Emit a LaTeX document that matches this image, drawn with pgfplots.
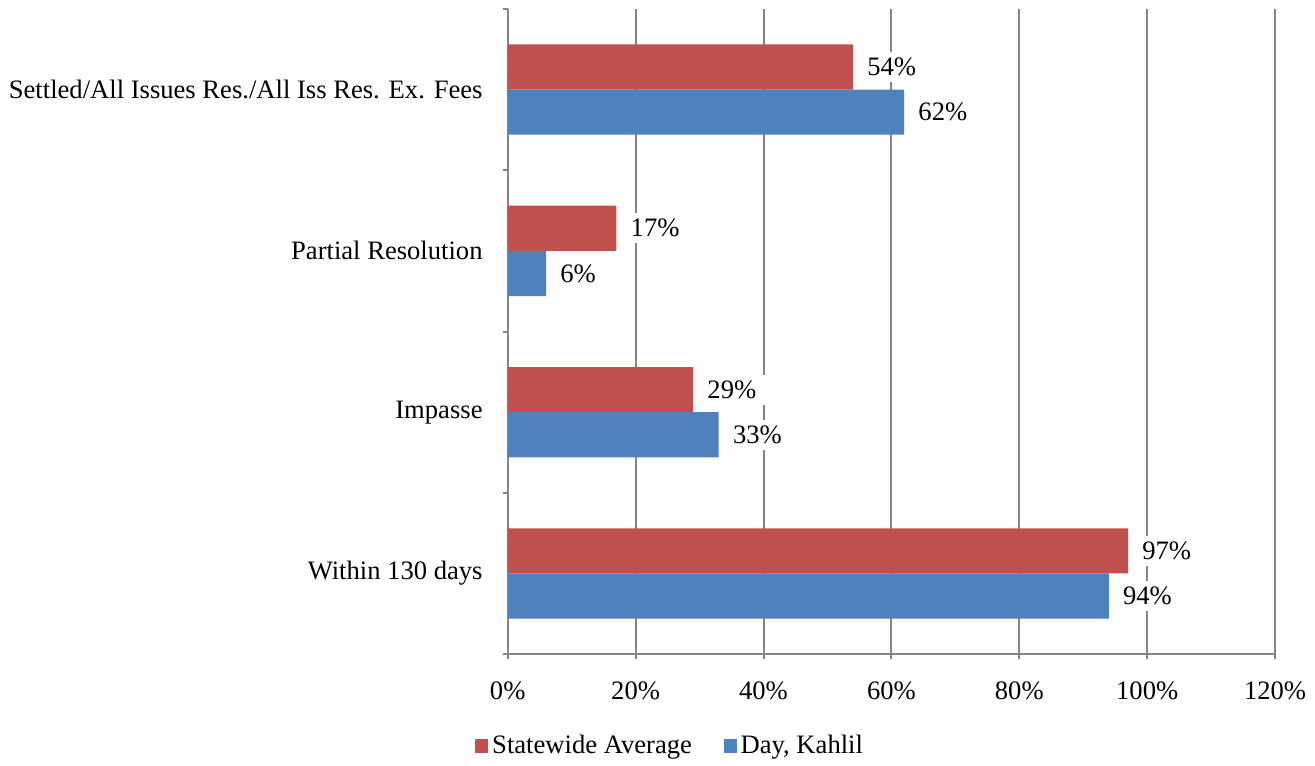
\documentclass[border=0pt]{standalone}
\usepackage{fontspec}
\setmainfont{Liberation Serif}
\usepackage{pgfplots}
\pgfplotsset{compat=1.18}
\definecolor{redS}{HTML}{C0504D}
\definecolor{blueD}{HTML}{4F81BD}
\definecolor{gridg}{HTML}{868686}
\begin{document}
\fontsize{13.4}{16}\selectfont
\begin{tikzpicture}
\begin{axis}[
  scale only axis, width=386.5pt, height=325pt,
  xbar, bar width=0.28,
  xmin=0, xmax=120, ymin=-0.5, ymax=3.5,
  xtick={0,20,...,120},
  xticklabel={\pgfmathprintnumber{\tick}\%},
  /pgf/number format/assume math mode=true,
  ytick={-0.5,0.5,...,3.5}, yticklabels={},
  extra y ticks={0,1,2,3},
  extra y tick labels={Within 130 days, Impasse, Partial Resolution, Settled/All Issues Res./All Iss Res. Ex. Fees},
  extra y tick style={major tick length=0pt, yticklabel style={xshift=-8pt}},
  axis x line*=bottom, axis y line*=left,
  axis line style={gridg, line width=1pt},
  xmajorgrids, grid style={gridg, line width=1pt},
  tick style={gridg, line width=1pt},
  tick align=outside, major tick length=2.5pt,
  xticklabel style={yshift=-7pt},
  nodes near coords={\pgfmathprintnumber{\pgfplotspointmeta}\%},
  every node near coord/.append style={anchor=west, fill=white, inner xsep=5pt, inner ysep=3pt, xshift=2pt, text=black},
  legend style={at={(rel axis cs:0.213,-0.143)}, anchor=center, draw=none, legend columns=-1,
    /tikz/every even column/.append style={column sep=14pt}},
  legend image code/.code={\fill[#1] (0pt,-3.5pt) rectangle (6.5pt,3.5pt);},
]
\addplot[fill=redS, draw=none, bar shift=0.14] coordinates {(97,0) (29,1) (17,2) (54,3)};
\addlegendentry{Statewide Average}
\addplot[fill=blueD, draw=none, bar shift=-0.14] coordinates {(94,0) (33,1) (6,2) (62,3)};
\addlegendentry{Day, Kahlil}
\end{axis}
\end{tikzpicture}
\end{document}
